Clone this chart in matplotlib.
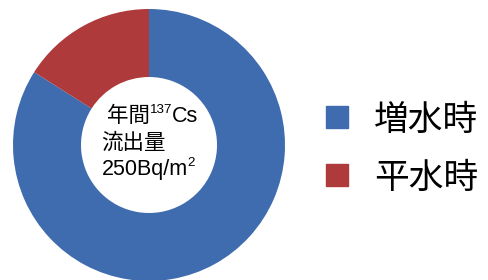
import matplotlib
matplotlib.use('Agg')
import matplotlib.pyplot as plt
from matplotlib.lines import Line2D
from matplotlib.transforms import offset_copy

plt.rcParams['font.family'] = ['Liberation Sans', 'Noto Sans CJK JP', 'DejaVu Sans']

# data (share of annual 137Cs outflow)
labels = ['増水時', '平水時']
shares = [84, 16]
colors = ['#3F6BAF', '#AE3A3B']

fig = plt.figure(figsize=(4.88, 2.8), dpi=100)
# circle: centre ~ (149,145)px, radius ~136px
ax = fig.add_axes([(149 - 136) / 488, (135 - 136) / 280, 272 / 488, 272 / 280])
ax.pie(shares, colors=colors, startangle=90, counterclock=False,
       radius=1.0, wedgeprops=dict(width=0.5, edgecolor='none'))
ax.set_xlim(-1, 1)
ax.set_ylim(-1, 1)
ax.set_aspect('equal')
ax.axis('off')

fs = 15.5
renderer = fig.canvas.get_renderer()


def chain(x, y, pieces):
    # pieces: list of (text, size, dy_points)
    dx = 0
    for s, size, dy in pieces:
        tr = offset_copy(ax.transData, fig=fig, x=dx, y=dy, units='dots')
        t = ax.text(x, y, s, fontsize=size, ha='left', va='baseline', transform=tr)
        dx += t.get_window_extent(renderer).width


chain(-0.31, 0.17, [('年間', fs, 0), ('137', fs * 0.62, 9), ('Cs', fs, 0)])
chain(-0.35, -0.03, [('流出量', fs, 0)])
chain(-0.35, -0.22, [('250Bq/m', fs, 0), ('2', fs * 0.62, 9)])

handles = [Line2D([], [], marker='s', linestyle='none', markersize=16,
                  markerfacecolor=c, markeredgecolor=c) for c in colors]
fig.legend(handles, labels, loc='center left', bbox_to_anchor=(320 / 488, 1 - 149 / 280),
           frameon=False, fontsize=25, labelspacing=0.72, handletextpad=0.55,
           handlelength=1.0, borderpad=0, borderaxespad=0)

fig.savefig('out.png', dpi=100)
